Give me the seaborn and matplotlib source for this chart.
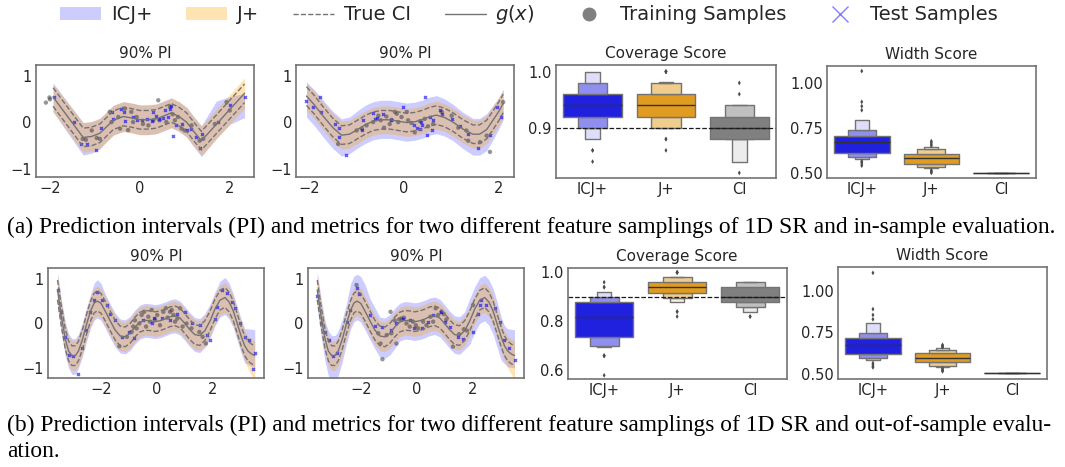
import numpy as np
import pandas as pd
import matplotlib
matplotlib.use("Agg")
import matplotlib.pyplot as plt
import seaborn as sns
from matplotlib.patches import Patch, Rectangle
from matplotlib.lines import Line2D
from matplotlib.collections import PatchCollection

# ---------------- row (a): in-sample, two feature samplings ----------------
a1_x = [-1.93, -1.26, -1.08, -0.89, -0.74, -0.59, -0.37, -0.18, 0.0, 0.18,
        0.37, 0.55, 0.70, 0.87, 1.04, 1.20, 1.37, 1.70, 2.0, 2.33]
a1_g = [0.54, -0.33, -0.31, -0.24, -0.10, 0.04, 0.12, 0.09, 0.05, 0.05,
        0.07, 0.14, 0.20, 0.12, 0.0, -0.20, -0.40, -0.05, 0.27, 0.62]
a1_ci = 0.2
a1_icj_dn = [0.32, 0.38, 0.36, 0.34, 0.32, 0.32, 0.32, 0.32, 0.32, 0.32,
             0.32, 0.32, 0.32, 0.32, 0.32, 0.33, 0.34, 0.30, 0.32, 0.52]
a1_icj_up = [0.30, 0.32, 0.32, 0.32, 0.32, 0.32, 0.32, 0.32, 0.32, 0.32,
             0.32, 0.32, 0.32, 0.32, 0.32, 0.32, 0.32, 0.50, 0.28, 0.0]
a1_jp_dn = [0.32] * 20
a1_jp_up = [0.28] + [0.32] * 18 + [0.33]
a1_train_x = [-2.09, -2.01, -2.00, -1.27, -1.20, -1.07, -0.96, -0.89, -0.67, -0.63,
              -0.48, -0.44, -0.33, -0.26, -0.19, -0.15, -0.07, 0.07, 0.19, 0.30,
              0.41, 0.44, 0.59, 0.67, 0.73, 0.78, 0.85, 0.93, 1.00, 1.15,
              1.33, 1.41, 1.67, 1.93, 2.00]
a1_train_y = [0.42, 0.53, 0.49, -0.36, -0.38, -0.18, -0.34, -0.36, 0.22, 0.00,
              0.11, -0.14, 0.29, -0.17, 0.22, 0.00, 0.11, -0.04, -0.07, 0.04,
              0.47, 0.04, 0.00, 0.33, 0.17, 0.04, 0.11, -0.14, -0.18, -0.07,
              -0.40, -0.36, -0.04, 0.43, 0.25]
a1_test_x = [-1.90, -1.47, -1.30, -1.17, -0.98, -0.87, -0.63, -0.59, -0.41, -0.36,
             -0.33, -0.16, -0.07, 0.04, 0.15, 0.26, 0.30, 0.37, 0.43, 0.52,
             0.56, 0.63, 0.68, 0.70, 0.74, 0.81, 0.93, 1.04, 1.13, 1.26,
             1.33, 1.39, 1.74, 2.00, 2.33]
a1_test_y = [0.53, 0.01, -0.47, -0.47, -0.59, -0.13, 0.22, 0.07, 0.29, 0.22,
             0.02, 0.12, 0.04, 0.05, 0.07, 0.02, 0.22, 0.14, 0.06, 0.09,
             0.25, 0.11, 0.29, 0.34, -0.29, -0.07, -0.04, -0.18, -0.14, -0.33,
             -0.56, -0.25, 0.00, 0.36, 0.54]

a2_x = [-2.06, -1.90, -1.70, -1.50, -1.32, -1.15, -1.00, -0.82, -0.65, -0.48,
        -0.30, -0.12, 0.06, 0.24, 0.41, 0.55, 0.69, 0.86, 1.04, 1.25,
        1.46, 1.60, 1.75, 1.89, 2.00, 2.10]
a2_g = [0.56, 0.38, 0.12, -0.12, -0.28, -0.26, -0.17, -0.06, 0.02, 0.05,
        0.05, 0.02, -0.01, 0.01, 0.06, 0.12, 0.15, 0.10, 0.00, -0.15,
        -0.26, -0.26, -0.16, 0.05, 0.22, 0.40]
a2_ci = 0.2
a2_icj_dn = [0.45, 0.45, 0.45, 0.45, 0.45, 0.42, 0.40, 0.40, 0.40, 0.40,
             0.40, 0.40, 0.40, 0.40, 0.40, 0.40, 0.40, 0.40, 0.40, 0.42,
             0.45, 0.45, 0.45, 0.42, 0.38, 0.35]
a2_icj_up = [0.30, 0.32, 0.34, 0.35, 0.35, 0.37, 0.40, 0.42, 0.42, 0.42,
             0.42, 0.42, 0.42, 0.42, 0.42, 0.42, 0.42, 0.40, 0.38, 0.36,
             0.34, 0.34, 0.34, 0.32, 0.30, 0.30]
a2_jp_dn = [0.30] * 26
a2_jp_up = [0.28] + [0.30] * 25
a2_train_x = [-1.39, -1.00, -0.89, -0.79, -0.65, -0.54, -0.49, -0.42, -0.37, -0.30,
              -0.26, -0.19, -0.15, -0.12, -0.05, 0.06, 0.09, 0.16, 0.23, 0.34,
              0.44, 0.51, 0.62, 0.80, 1.01, 1.15, 1.32, 1.36, 1.61, 1.75,
              1.82, 2.10]
a2_train_y = [-0.47, -0.18, -0.14, -0.07, 0.00, 0.14, 0.04, -0.12, 0.12, -0.04,
              0.05, 0.22, 0.18, 0.00, 0.11, 0.22, 0.04, -0.02, -0.22, 0.02,
              0.07, -0.09, -0.04, 0.22, 0.14, -0.12, -0.18, -0.40, -0.43, -0.29,
              -0.64, 0.43]
a2_test_x = [-2.08, -1.92, -1.77, -1.75, -1.46, -1.37, -1.37, -1.23, -0.89, -0.86,
             -0.65, -0.61, -0.56, -0.45, -0.28, -0.01, 0.21, 0.27, 0.34, 0.37,
             0.39, 0.44, 0.48, 0.55, 0.60, 0.62, 0.76, 0.80, 1.01, 1.18,
             1.36, 1.57, 1.82, 1.97, 2.06]
a2_test_y = [0.45, 0.33, 0.53, 0.22, -0.04, -0.13, -0.33, -0.70, -0.17, 0.04,
             0.20, 0.07, 0.09, 0.17, 0.05, 0.33, -0.07, -0.12, -0.14, 0.00,
             -0.07, 0.54, -0.27, 0.12, -0.17, 0.04, 0.25, 0.18, 0.06, -0.09,
             -0.25, -0.56, -0.28, 0.33, 0.12]

# coverage scores (value levels and how many runs landed on each)
cov1_icj_vals = [0.84, 0.86, 0.88, 0.90, 0.92, 0.94, 0.96, 0.98, 1.00]
cov1_icj_n = [1, 2, 4, 8, 10, 14, 12, 8, 5]
cov1_jp_vals = [0.86, 0.88, 0.90, 0.92, 0.94, 0.96, 0.98, 1.00]
cov1_jp_n = [1, 2, 12, 10, 14, 12, 9, 4]
cov1_ci_vals = [0.82, 0.84, 0.86, 0.88, 0.90, 0.92, 0.94, 0.96, 0.98]
cov1_ci_n = [1, 4, 2, 16, 17, 11, 11, 1, 1]

w1_icj = [0.540, 0.550, 0.560, 0.565, 0.576, 0.578, 0.581, 0.584, 0.586, 0.589,
          0.592, 0.595, 0.598, 0.601, 0.604, 0.607, 0.610, 0.614, 0.618, 0.622,
          0.626, 0.630, 0.634, 0.638, 0.642, 0.646, 0.650, 0.654, 0.658, 0.662,
          0.666, 0.668, 0.670, 0.672, 0.675, 0.678, 0.681, 0.684, 0.687, 0.690,
          0.692, 0.694, 0.696, 0.698, 0.700, 0.702, 0.704, 0.706, 0.709, 0.713,
          0.717, 0.721, 0.725, 0.729, 0.733, 0.737, 0.750, 0.762, 0.775, 0.787,
          0.848, 0.870, 0.894, 1.065]
w1_jp = [0.500, 0.505, 0.509, 0.515, 0.526, 0.528, 0.530, 0.532, 0.534, 0.536,
         0.538, 0.540, 0.543, 0.545, 0.547, 0.550, 0.552, 0.554, 0.556, 0.558,
         0.560, 0.562, 0.564, 0.566, 0.568, 0.570, 0.572, 0.574, 0.576, 0.578,
         0.579, 0.580, 0.582, 0.584, 0.586, 0.588, 0.590, 0.592, 0.594, 0.596,
         0.597, 0.598, 0.599, 0.600, 0.602, 0.603, 0.604, 0.606, 0.609, 0.612,
         0.615, 0.618, 0.621, 0.624, 0.627, 0.631, 0.634, 0.637, 0.640, 0.644,
         0.650, 0.659, 0.668, 0.676]
w1_ci = [0.502] * 64

# ---------------- row (b): out-of-sample ----------------
r2_x = [-3.56, -3.42, -3.28, -3.16, -3.04, -2.92, -2.81, -2.66, -2.51, -2.36,
        -2.24, -2.13, -2.00, -1.85, -1.67, -1.49, -1.31, -1.13, -0.95, -0.78,
        -0.60, -0.42, -0.24, -0.06, 0.12, 0.30, 0.48, 0.66, 0.84, 1.01,
        1.19, 1.37, 1.55, 1.73, 1.91, 2.09, 2.27, 2.45, 2.60, 2.75,
        2.90, 3.04, 3.16, 3.28, 3.40, 3.52]
r2_g = [0.75, 0.15, -0.35, -0.62, -0.72, -0.72, -0.62, -0.35, 0.0, 0.30,
        0.46, 0.50, 0.45, 0.28, 0.06, -0.15, -0.28, -0.30, -0.22, -0.08,
        0.03, 0.07, 0.06, 0.04, 0.06, 0.10, 0.15, 0.17, 0.12, 0.0,
        -0.14, -0.25, -0.27, -0.16, 0.05, 0.32, 0.52, 0.58, 0.48, 0.28,
        -0.02, -0.30, -0.50, -0.62, -0.68, -0.72]
r2_ci = 0.22
a5_icj_dn = [0.38] * 4 + [0.42, 0.42] + [0.38] * 37 + [0.30, 0.28, 0.28]
a5_icj_up = ([0.38] * 10 + [0.45, 0.48, 0.45] + [0.38] * 23 + [0.42, 0.45, 0.42]
             + [0.38] * 4 + [0.50, 0.55, 0.58])
a5_jp_dn = [0.33] * 43 + [0.40, 0.48, 0.55]
a5_jp_up = [0.33] * 46
a6_icj_dn = ([0.40, 0.45, 0.50, 0.55, 0.58, 0.58, 0.55, 0.50, 0.45] + [0.42] * 7
             + [0.48] * 4 + [0.42] * 14 + [0.52] * 8 + [0.40, 0.35, 0.30, 0.28])
a6_icj_up = ([0.40] * 3 + [0.45] * 6 + [0.60] * 5 + [0.50] * 2 + [0.42] * 18
             + [0.50] * 7 + [0.45] * 2 + [0.50, 0.55, 0.58])
a6_jp_dn = [0.33] * 43 + [0.38, 0.45, 0.52]
a6_jp_up = [0.33] * 46

a5_train_x = [-1.34, -1.07, -0.90, -0.84, -0.78, -0.72, -0.62, -0.54, -0.45, -0.38,
              -0.30, -0.24, -0.18, -0.06, 0.02, 0.12, 0.24, 0.33, 0.39, 0.48,
              0.54, 0.60, 0.66, 0.74, 0.84, 0.93, 1.07, 1.25, 1.53, 1.65, 1.77]
a5_train_y = [-0.51, -0.30, -0.19, -0.07, 0.07, -0.11, 0.00, 0.19, 0.26, -0.07,
              0.15, 0.04, 0.30, 0.09, 0.19, -0.04, 0.26, 0.34, 0.13, 0.26,
              0.30, 0.19, 0.04, 0.11, 0.34, -0.07, 0.00, -0.11, -0.19, -0.30, -0.45]
a5_test_x = [-3.56, -3.44, -3.28, -3.16, -3.01, -2.84, -2.69, -2.53, -2.39, -2.24,
             -2.13, -1.97, -1.79, -1.67, -1.49, -1.25, -1.01, -0.81, -0.48, -0.18,
             -0.10, 0.18, 0.48, 0.72, 1.01, 1.25, 1.55, 1.79, 1.93, 2.09,
             2.17, 2.33, 2.51, 2.69, 2.81, 2.99, 3.16, 3.32, 3.44, 3.52]
a5_test_y = [0.75, 0.26, -0.30, -0.71, -0.73, -1.12, -0.56, -0.15, 0.26, 0.52,
             0.71, 0.52, 0.41, 0.21, 0.07, -0.30, -0.19, -0.32, 0.07, 0.01,
             0.13, 0.13, 0.07, 0.22, 0.26, 0.00, -0.04, -0.26, -0.36, 0.09,
             0.37, 0.75, 0.67, 0.49, 0.34, 0.00, -0.30, -0.37, -1.01, -0.67]

a6_train_x = [-2.15, -1.37, -1.29, -1.22, -1.07, -0.93, -0.90, -0.78, -0.72, -0.62,
              -0.54, -0.45, -0.36, -0.24, -0.12, -0.02, 0.06, 0.24, 0.36, 0.50,
              0.60, 0.69, 0.78, 0.90, 0.98, 1.07, 1.31, 1.53, 1.70, 1.81, 2.03]
a6_train_y = [0.86, -0.22, -0.45, -0.80, -0.26, 0.26, -0.22, 0.07, -0.45, 0.09,
              0.11, 0.13, 0.00, -0.07, 0.04, -0.04, -0.11, 0.04, -0.04, 0.15,
              0.04, 0.34, 0.19, 0.26, 0.21, 0.09, -0.52, -0.24, -0.13, -0.16, 0.41]
a6_test_x = [-3.56, -3.44, -3.28, -3.14, -2.99, -2.84, -2.51, -2.39, -2.13, -2.05,
             -1.67, -1.49, -1.22, -0.90, -0.74, -0.50, -0.24, -0.08, 0.21, 0.42,
             0.60, 0.87, 1.01, 1.19, 1.49, 1.67, 2.03, 2.21, 2.27, 2.33,
             2.51, 2.81, 2.99, 3.16, 3.32, 3.52]
a6_test_y = [0.61, 0.00, -0.19, -0.37, -0.73, -0.66, 0.04, 0.30, 0.79, 0.66,
             0.19, -0.06, -0.07, -0.15, 0.00, 0.11, 0.07, -0.11, -0.11, 0.04,
             0.19, 0.26, 0.04, -0.09, -0.30, -0.34, -0.19, 0.22, 0.41, 0.52,
             0.41, 0.34, 0.04, -0.37, -0.56, -0.82]

cov2_icj_vals = [0.58, 0.66, 0.70, 0.72, 0.74, 0.76, 0.78, 0.80, 0.82, 0.84,
                 0.86, 0.88, 0.90, 0.92, 0.94, 0.96]
cov2_icj_n = [1, 3, 8, 4, 4, 4, 4, 3, 3, 5, 5, 8, 6, 3, 2, 1]
cov2_jp_vals = [0.82, 0.84, 0.88, 0.90, 0.92, 0.94, 0.96, 0.98, 1.00]
cov2_jp_n = [1, 2, 5, 8, 10, 14, 10, 10, 4]
cov2_ci_vals = [0.82, 0.84, 0.86, 0.88, 0.90, 0.92, 0.94, 0.96]
cov2_ci_n = [2, 3, 4, 12, 12, 10, 12, 9]

w2_icj = [0.540, 0.546, 0.556, 0.566, 0.586, 0.589, 0.592, 0.595, 0.597, 0.600,
          0.603, 0.606, 0.609, 0.612, 0.616, 0.620, 0.623, 0.626, 0.629, 0.632,
          0.635, 0.638, 0.641, 0.644, 0.647, 0.650, 0.653, 0.656, 0.659, 0.662,
          0.666, 0.671, 0.673, 0.676, 0.679, 0.682, 0.685, 0.688, 0.691, 0.694,
          0.697, 0.700, 0.703, 0.706, 0.708, 0.710, 0.712, 0.715, 0.719, 0.723,
          0.727, 0.731, 0.735, 0.738, 0.741, 0.745, 0.760, 0.775, 0.790, 0.805,
          0.829, 0.855, 0.890, 1.108]
w2_jp = [0.516, 0.520, 0.526, 0.533, 0.540, 0.542, 0.544, 0.546, 0.548, 0.551,
         0.554, 0.557, 0.560, 0.563, 0.566, 0.568, 0.570, 0.572, 0.574, 0.576,
         0.578, 0.580, 0.582, 0.584, 0.586, 0.588, 0.590, 0.591, 0.592, 0.593,
         0.595, 0.596, 0.598, 0.600, 0.602, 0.604, 0.606, 0.608, 0.610, 0.612,
         0.614, 0.615, 0.616, 0.618, 0.619, 0.620, 0.622, 0.624, 0.627, 0.630,
         0.633, 0.636, 0.638, 0.640, 0.643, 0.645, 0.648, 0.650, 0.653, 0.655,
         0.660, 0.665, 0.670, 0.675]
w2_ci = [0.505] * 64

methods = ["ICJ+", "J+", "CI"]
palette = {"ICJ+": "blue", "J+": "orange", "CI": "gray"}

caption_a = ("(a) Prediction intervals (PI) and metrics for two different feature "
             "samplings of 1D SR and in-sample evaluation.")
caption_b1 = ("(b) Prediction intervals (PI) and metrics for two different feature "
              "samplings of 1D SR and out-of-sample evalu-")
caption_b2 = "ation."


def plot_pi(ax, x, g, ci, icj_dn, icj_up, jp_dn, jp_up, tr_x, tr_y, te_x, te_y,
            xlim, ylim):
    x = np.asarray(x)
    g = np.asarray(g)
    ax.fill_between(x, g - np.asarray(icj_dn), g + np.asarray(icj_up),
                    color="blue", alpha=0.2, lw=0)
    ax.fill_between(x, g - np.asarray(jp_dn), g + np.asarray(jp_up),
                    color="orange", alpha=0.3, lw=0)
    sns.lineplot(x=x, y=g + ci, ax=ax, color="0.45", lw=1, ls="--")
    sns.lineplot(x=x, y=g - ci, ax=ax, color="0.45", lw=1, ls="--")
    sns.lineplot(x=x, y=g, ax=ax, color="0.45", lw=1)
    sns.scatterplot(x=tr_x, y=tr_y, ax=ax, color="0.25", alpha=0.55, s=10,
                    edgecolor="none")
    sns.scatterplot(x=te_x, y=te_y, ax=ax, color="blue", marker="x", s=4,
                    linewidth=1.3, alpha=0.6)
    ax.set_xlim(*xlim)
    ax.set_ylim(*ylim)
    ax.set_xticks([-2, 0, 2])
    ax.set_yticks([-1, 0, 1])
    ax.set_title("90% PI")


def shade_levels(ax):
    # outer letter-value boxes get lighter, as in the original figure
    def tint(width, base):
        f = 0.0 if width > 0.6 else (0.5 if width > 0.3 else 0.85)
        return tuple(base * (1 - f) + f) + (1.0,)

    for c in ax.collections:
        if not isinstance(c, PatchCollection):
            continue
        ext = [p.get_extents() for p in c.get_paths()]
        if not ext:
            continue
        cx = np.mean([(e.x0 + e.x1) / 2 for e in ext])
        name = methods[int(round(cx))]
        base = np.array(matplotlib.colors.to_rgb(sns.desaturate(palette[name], 0.75)))
        c.set_array(None)
        c.set_facecolor([tint(e.x1 - e.x0, base) for e in ext])
    for p in ax.patches:
        if isinstance(p, Rectangle):
            name = methods[int(round(p.get_x() + p.get_width() / 2))]
            base = np.array(matplotlib.colors.to_rgb(sns.desaturate(palette[name], 0.75)))
            p.set_facecolor(tint(p.get_width(), base))


def plot_metric(ax, icj, jp, ci, title, yticks, ylim, ref=None):
    df = pd.DataFrame({
        "method": ["ICJ+"] * len(icj) + ["J+"] * len(jp) + ["CI"] * len(ci),
        "score": np.concatenate([icj, jp, ci]),
    })
    sns.boxenplot(data=df, x="method", y="score", hue="method", order=methods,
                  palette=palette, ax=ax, legend=False, linecolor=".45",
                  linewidth=1, line_kws=dict(color=".2", linewidth=1),
                  flier_kws=dict(marker="d", s=6, facecolor=".3",
                                 edgecolor="none"))
    shade_levels(ax)
    if ref is not None:
        ax.axhline(ref, color="k", ls="--", lw=0.9)
    ax.set_yticks(yticks)
    ax.set_ylim(*ylim)
    ax.set_xlabel("")
    ax.set_ylabel("")
    ax.set_title(title)


sns.set_theme(style="white", rc={
    "axes.edgecolor": ".45",
    "axes.linewidth": 1.2,
    "xtick.labelsize": 10.5,
    "ytick.labelsize": 10.5,
    "axes.titlesize": 11,
    "axes.titlepad": 5,
})

fig = plt.figure(figsize=(10.65, 4.67), dpi=100)
ax1 = fig.add_axes([0.0338, 0.621, 0.2047, 0.240])
ax2 = fig.add_axes([0.278, 0.621, 0.2047, 0.240])
ax3 = fig.add_axes([0.522, 0.619, 0.2066, 0.242])
ax4 = fig.add_axes([0.7765, 0.619, 0.196, 0.240])
ax5 = fig.add_axes([0.0451, 0.1906, 0.203, 0.2355])
ax6 = fig.add_axes([0.289, 0.1906, 0.203, 0.2355])
ax7 = fig.add_axes([0.533, 0.1884, 0.2056, 0.2377])
ax8 = fig.add_axes([0.787, 0.1884, 0.196, 0.2398])

plot_pi(ax1, a1_x, a1_g, a1_ci, a1_icj_dn, a1_icj_up, a1_jp_dn, a1_jp_up,
        a1_train_x, a1_train_y, a1_test_x, a1_test_y, (-2.31, 2.54), (-1.18, 1.23))
plot_pi(ax2, a2_x, a2_g, a2_ci, a2_icj_dn, a2_icj_up, a2_jp_dn, a2_jp_up,
        a2_train_x, a2_train_y, a2_test_x, a2_test_y, (-2.28, 2.33), (-1.18, 1.23))
plot_metric(ax3, np.repeat(cov1_icj_vals, cov1_icj_n), np.repeat(cov1_jp_vals, cov1_jp_n),
            np.repeat(cov1_ci_vals, cov1_ci_n), "Coverage Score", [0.9, 1.0],
            (0.811, 1.012), ref=0.9)
plot_metric(ax4, w1_icj, w1_jp, w1_ci, "Width Score", [0.5, 0.75, 1.0], (0.472, 1.094))

plot_pi(ax5, r2_x, r2_g, r2_ci, a5_icj_dn, a5_icj_up, a5_jp_dn, a5_jp_up,
        a5_train_x, a5_train_y, a5_test_x, a5_test_y, (-3.9, 3.86), (-1.22, 1.24))
plot_pi(ax6, r2_x, r2_g, r2_ci, a6_icj_dn, a6_icj_up, a6_jp_dn, a6_jp_up,
        a6_train_x, a6_train_y, a6_test_x, a6_test_y, (-3.9, 3.86), (-1.22, 1.24))
plot_metric(ax7, np.repeat(cov2_icj_vals, cov2_icj_n), np.repeat(cov2_jp_vals, cov2_jp_n),
            np.repeat(cov2_ci_vals, cov2_ci_n), "Coverage Score", [0.6, 0.8, 1.0],
            (0.565, 1.018), ref=0.9)
plot_metric(ax8, w2_icj, w2_jp, w2_ci, "Width Score", [0.5, 0.75, 1.0], (0.47, 1.143))

for ax in fig.axes:
    ax.tick_params(length=0, pad=3)

handles = [
    Patch(facecolor="blue", alpha=0.2, edgecolor="none", label="ICJ+"),
    Patch(facecolor="orange", alpha=0.3, edgecolor="none", label="J+"),
    Line2D([], [], color="0.45", ls="--", lw=1, label="True CI"),
    Line2D([], [], color="0.45", lw=1, label="$g(x)$"),
    Line2D([], [], color="0.5", marker="o", ls="none", markersize=9, label="Training Samples"),
    Line2D([], [], color="blue", alpha=0.5, marker="x", ls="none", markersize=11,
           markeredgewidth=1, label="Test Samples"),
]
fig.legend(handles=handles, loc="center", bbox_to_anchor=(0.497, 0.968), ncol=6,
           frameon=False, fontsize=14, handlelength=2.1, handletextpad=0.5,
           columnspacing=1.75)

# captions set in a Times-like serif, sized to fill the text width
cap_a = fig.text(0.0066, 0.514, caption_a, family="Liberation Serif", fontsize=15,
                 va="center", color="black")
cap_b1 = fig.text(0.0066, 0.09, caption_b1, family="Liberation Serif", fontsize=15,
                  va="center", color="black")
cap_b2 = fig.text(0.0066, 0.034, caption_b2, family="Liberation Serif", fontsize=15,
                  va="center", color="black")
fig.canvas.draw()
renderer = fig.canvas.get_renderer()
for t in (cap_a, cap_b1):
    w = t.get_window_extent(renderer).width
    t.set_fontsize(15 * 1051 / w)
cap_b2.set_fontsize(cap_b1.get_fontsize())

fig.savefig("out.png", dpi=100)
